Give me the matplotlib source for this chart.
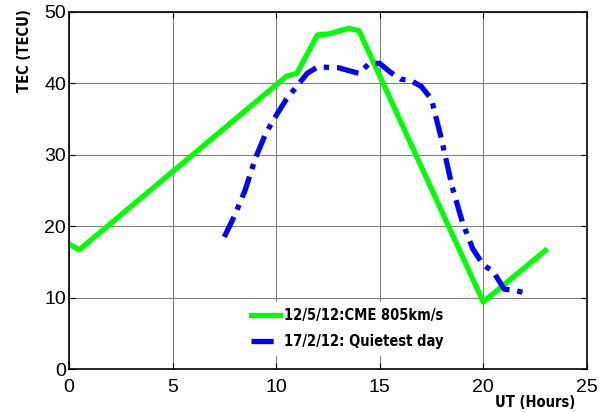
import matplotlib
matplotlib.use("Agg")
import matplotlib.pyplot as plt

cme_ut = [0, 0.5, 10.5, 11.0, 12.0, 12.5, 13.5, 14.0, 20.0, 23.0]
cme_tec = [17.5, 16.7, 41.0, 41.4, 46.8, 46.9, 47.7, 47.4, 9.4, 16.6]

quiet_ut = [7.5, 8.0, 8.5, 9.0, 9.5, 10.0, 10.5, 11.0, 11.5, 12.0, 13.0, 14.0, 14.5, 15.0,
            15.5, 16.0, 16.5, 17.0, 17.5, 18.0, 18.5, 19.0, 19.5, 20.0, 20.5, 21.0, 21.5, 22.0]
quiet_tec = [18.5, 21.5, 25.0, 29.5, 33.0, 35.5, 37.8, 39.6, 41.4, 42.3, 42.2, 41.4, 42.8, 42.8,
             41.6, 40.6, 40.4, 39.6, 37.8, 32.0, 25.5, 20.5, 16.8, 14.6, 13.6, 11.2, 11.0, 10.7]

labels = ["12/5/12:CME 805km/s", "17/2/12: Quietest day"]

cond = {"family": "DejaVu Sans", "weight": "bold", "stretch": "condensed"}

fig = plt.figure(figsize=(6.1, 4.13), dpi=100)
ax = fig.add_axes([0.113, 0.1065, 0.849, 0.8645])

ax.plot(cme_ut, cme_tec, color="#00ff00", lw=3.8, label=labels[0])
ax.plot(quiet_ut, quiet_tec, color="#0000ff", lw=3.8, label=labels[1],
        dashes=(4.2, 1.5, 1.0, 1.5))

ax.set_xlim(0, 25)
ax.set_ylim(0, 50)
ax.set_xticks([0, 5, 10, 15, 20, 25])
ax.set_yticks([0, 10, 20, 30, 40, 50])
ax.grid(True, color="#808080", lw=0.8)
ax.tick_params(direction="in", top=True, right=True, labelsize=14, length=4)
ax.tick_params(axis="x", pad=7)
ax.tick_params(axis="y", pad=2)
for t in ax.get_xticklabels() + ax.get_yticklabels():
    t.set_family("Liberation Sans")
for s in ax.spines.values():
    s.set_linewidth(1.2)

ax.set_ylabel("TEC (TECU)", fontsize=10.5, **cond)
ax.yaxis.set_label_coords(-0.072, 0.893)
ax.set_xlabel("UT (Hours)", fontsize=10.5, **cond)
ax.xaxis.set_label_coords(0.9, -0.072)

leg = ax.legend(loc="lower left", bbox_to_anchor=(0.34, 0.04), frameon=True,
                fancybox=False, edgecolor="white", framealpha=1,
                prop={"family": "DejaVu Sans", "weight": "bold", "stretch": "condensed", "size": 10.5},
                handlelength=2.0, borderaxespad=0, handletextpad=0.3, labelspacing=0.75)

fig.savefig("out.png", dpi=100)
